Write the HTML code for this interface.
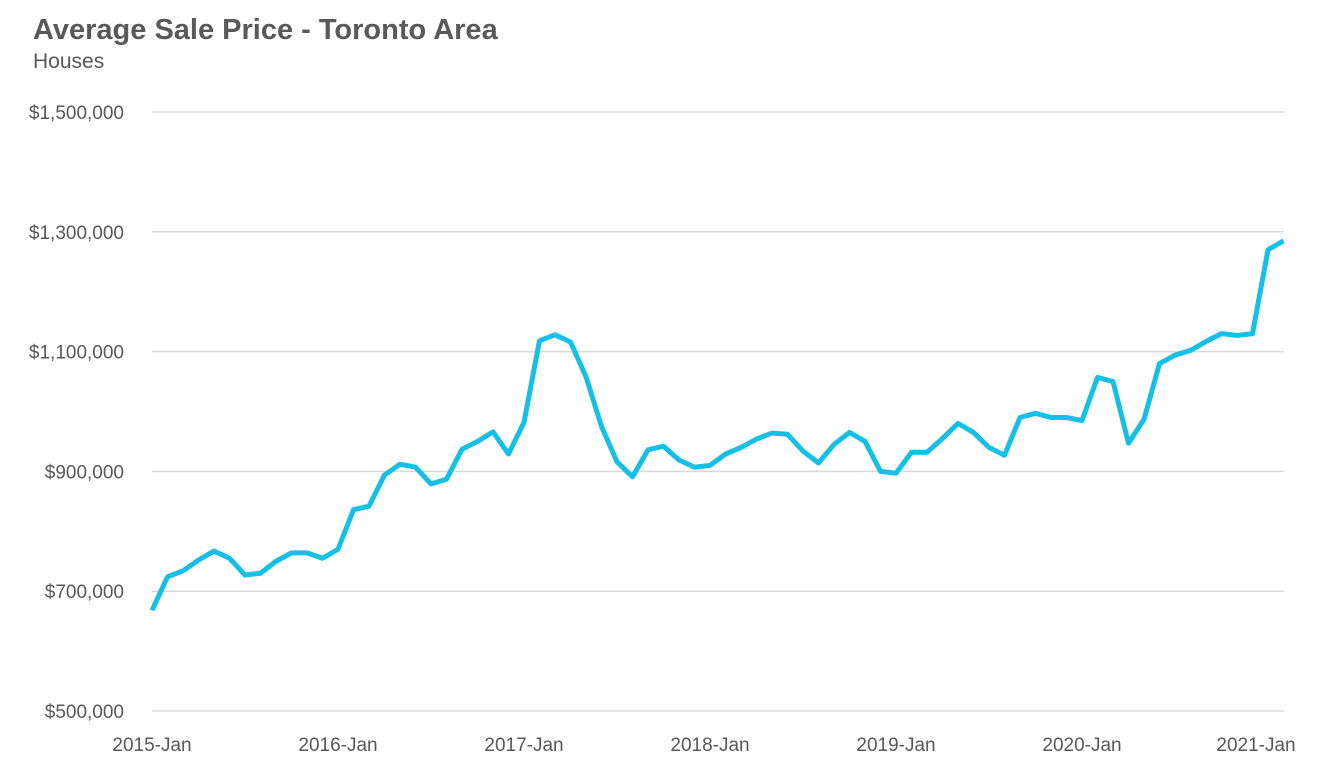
<!DOCTYPE html>
<html><head><meta charset="utf-8"><style>
body{margin:0;background:#fff;}
svg{display:block;font-family:"Liberation Sans",sans-serif;}
</style></head><body>
<svg id="chart" width="1327" height="769">
<text x="33" y="39" font-size="29" font-weight="bold" fill="#595959">Average Sale Price - Toronto Area</text>
<text x="33" y="68" font-size="21" fill="#595959">Houses</text>
<g id="grid"></g><g id="yt"></g><g id="xt"></g><g id="ln"></g>
</svg>
<script>
const yTicks=[500000,700000,900000,1100000,1300000,1500000];
const xLabels=["2015-Jan","2016-Jan","2017-Jan","2018-Jan","2019-Jan","2020-Jan","2021-Jan"];
const prices=[668,724,734,752,767,755,727,730,750,764,764,755,770,836,842,894,912,907,879,887,937,950,966,929,982,1118,1128,1116,1058,975,916,891,936,942,919,907,910,929,940,954,964,962,934,914,945,965,950,900,897,932,932,955,980,965,940,927,990,997,990,990,985,1057,1050,947,987,1080,1094,1102,1117,1130,1127,1130,1270,1285];
const NS="http://www.w3.org/2000/svg";
const x0=152,dx=15.5,xr=1284;
const X=i=>x0+i*dx;
const Y=v=>711-(v-500000)*(599/1000000);
const g=document.getElementById('grid'),yt=document.getElementById('yt'),xt=document.getElementById('xt'),ln=document.getElementById('ln');
yTicks.forEach(v=>{
 const l=document.createElementNS(NS,'line');
 l.setAttribute('x1',x0);l.setAttribute('x2',xr);l.setAttribute('y1',Y(v));l.setAttribute('y2',Y(v));
 l.setAttribute('stroke','#d9d9d9');l.setAttribute('stroke-width','1.5');
 
 
 g.appendChild(l);
 const t=document.createElementNS(NS,'text');
 t.setAttribute('x',124);t.setAttribute('y',Y(v)+7);t.setAttribute('text-anchor','end');
 t.setAttribute('font-size','19');t.setAttribute('fill','#595959');
 t.textContent='$'+v.toLocaleString('en-US');
 
 
 yt.appendChild(t);
});
xLabels.forEach((s,k)=>{
 const t=document.createElementNS(NS,'text');
 let x=X(k*12); if(k===xLabels.length-1)x=Math.min(x-12,X(k*12));
 t.setAttribute('x',x);t.setAttribute('y',751);t.setAttribute('text-anchor','middle');
 t.setAttribute('font-size','19');t.setAttribute('fill','#595959');
 t.textContent=s;
 
 
 xt.appendChild(t);
});
const p=document.createElementNS(NS,'polyline');
p.setAttribute('points',prices.map((v,i)=>X(i)+','+Y(v*1000)).join(' '));
p.setAttribute('fill','none');p.setAttribute('stroke','#14c0e6');p.setAttribute('stroke-width','5');
p.setAttribute('stroke-linejoin','round');


ln.appendChild(p);
</script>
</body></html>
